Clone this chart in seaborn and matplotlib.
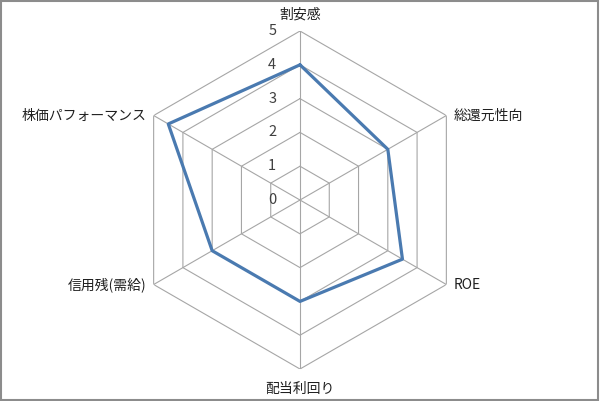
import numpy as np
import matplotlib
matplotlib.use("Agg")
import matplotlib.pyplot as plt
import seaborn as sns
from matplotlib.patches import Rectangle

categories = ["割安感", "総還元性向", "ROE", "配当利回り", "信用残(需給)", "株価パフォーマンス"]
values = [4, 3, 3.5, 3, 3, 4.5]
tick_values = [0, 1, 2, 3, 4, 5]
tick_labels = ["0", "1", "2", "3", "4", "5"]

sns.set_theme(style="white")
plt.rcParams['font.family'] = ['Noto Sans CJK JP', 'DejaVu Sans']

fig = plt.figure(figsize=(6.0, 4.01), dpi=100)
ax = fig.add_axes([0.5 - 0.28167, 0.5012 - 0.42145, 0.56333, 0.8429], projection='polar')
ax.set_theta_zero_location('N')
ax.set_theta_direction(-1)

n = len(categories)
angles = np.arange(n) * 2 * np.pi / n
ang_closed = np.append(angles, 2 * np.pi)

grid_color = "#A6A6A6"
# hexagonal grid
for t in tick_values[1:]:
    ax.plot(ang_closed, [t] * (n + 1), color=grid_color, lw=0.8, zorder=1)
for a in angles:
    ax.plot([a, a], [0, tick_values[-1]], color=grid_color, lw=0.8, zorder=1)

vals_closed = values + values[:1]
sns.lineplot(x=ang_closed, y=vals_closed, ax=ax, sort=False, color="#4A7AB0",
             lw=2.3, zorder=3)

ax.set_ylim(0, 5)
ax.grid(False)
ax.spines['polar'].set_visible(False)
ax.set_xticks([])
ax.set_yticks([])
ax.set_xlabel("")
ax.set_ylabel("")
ax.patch.set_alpha(0)

# radial tick labels
for t, lab in zip(tick_values, tick_labels):
    ax.annotate(lab, xy=(0, t), xytext=(-20, 0), textcoords='offset points',
                ha='center', va='center', fontsize=10.5, color="#404040")

# category labels
offsets = [(0, 7, 'center', 'bottom'),
           (5, 0, 'left', 'center'),
           (5, 0, 'left', 'center'),
           (0, -9, 'center', 'top'),
           (-5, 0, 'right', 'center'),
           (-5, 0, 'right', 'center')]
for a, lab, (dx, dy, ha, va) in zip(angles, categories, offsets):
    ax.annotate(lab, xy=(a, 5), xytext=(dx, dy), textcoords='offset points',
                ha=ha, va=va, fontsize=10, color="#202020")

fig.patches.append(Rectangle((0.0015, 0.0015), 0.995, 0.995, transform=fig.transFigure,
                             fill=False, edgecolor="#8C8C8C", lw=1.5))

fig.savefig("out.png", dpi=100)
